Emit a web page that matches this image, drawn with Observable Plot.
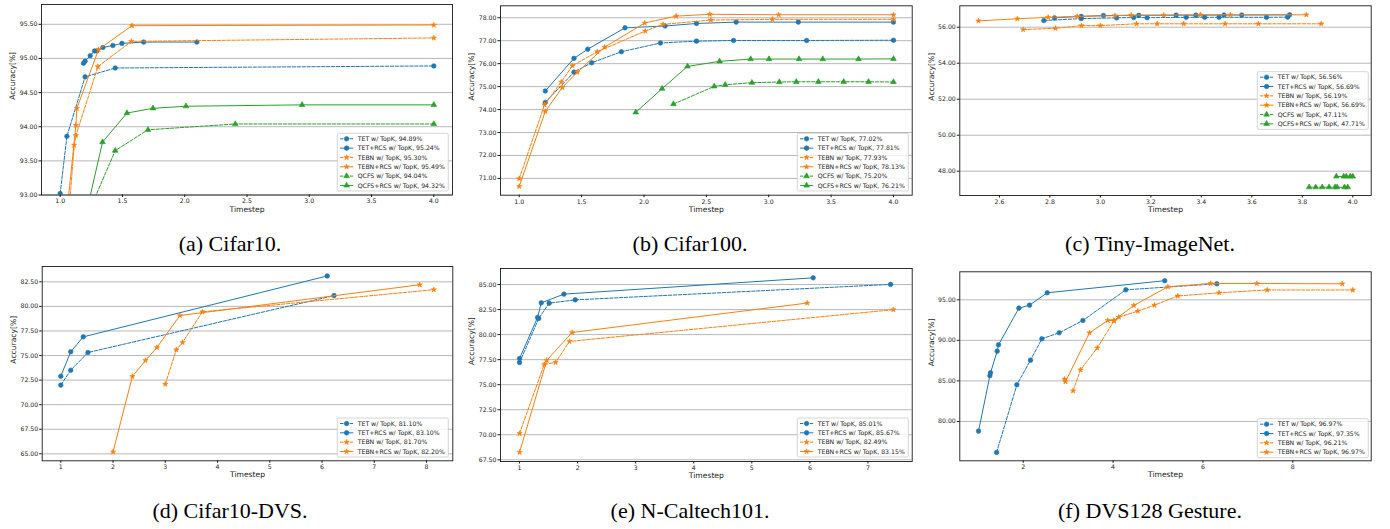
<!DOCTYPE html>
<html><head><meta charset="utf-8">
<script src="https://cdn.jsdelivr.net/npm/d3@7"></script>
<script src="https://cdn.jsdelivr.net/npm/@observablehq/plot@0.6"></script>
<style>
body{margin:0;background:#fff;}
#page{position:relative;width:1390px;height:529px;overflow:hidden;background:#fff;}
.cell{position:absolute;}
.cell svg{display:block;overflow:visible;}
.cap{position:absolute;width:400px;text-align:center;white-space:nowrap;font-family:"Liberation Serif","DejaVu Serif",serif;font-size:22px;line-height:26px;color:#000;}
</style></head><body><div id="page"></div>
<script>
// ---------- data ----------
// (a) Cifar10
const a_TET      = [[1.0,93.02],[1.054,93.86],[1.2,94.73],[1.442,94.86],[4.0,94.89]];
const a_TET_RCS  = [[1.1875,94.93],[1.2,94.96],[1.241,95.04],[1.276,95.11],[1.295,95.11],[1.343,95.16],[1.423,95.19],[1.496,95.22],[1.67,95.24],[2.098,95.24]];
const a_TEBN     = [[1.06,92.5],[1.1125,93.73],[1.126,93.87],[1.303,94.88],[1.571,95.25],[4.0,95.30]];
const a_TEBN_RCS = [[1.04,92.5],[1.126,94.02],[1.134,94.27],[1.308,95.13],[1.576,95.48],[4.0,95.49]];
const a_QCFS     = [[1.17,92.5],[1.442,93.65],[1.705,93.955],[2.406,94.04],[4.0,94.04]];
const a_QCFS_RCS = [[1.18,92.5],[1.34,93.775],[1.536,94.2],[1.745,94.27],[2.01,94.30],[2.942,94.32],[4.0,94.32]];
const a_labels = ["TET w/ TopK, 94.89%","TET+RCS w/ TopK, 95.24%","TEBN w/ TopK, 95.30%","TEBN+RCS w/ TopK, 95.49%","QCFS w/ TopK, 94.04%","QCFS+RCS w/ TopK, 94.32%"];
const a_xTicks = [1.0,1.5,2.0,2.5,3.0,3.5,4.0];
const a_yTicks = [93.0,93.5,94.0,94.5,95.0,95.5];

// (b) Cifar100
const b_TET      = [[1.209,74.31],[1.439,75.63],[1.581,76.04],[1.819,76.52],[2.132,76.90],[2.421,76.98],[2.718,77.01],[3.304,77.01],[4.0,77.02]];
const b_TET_RCS  = [[1.209,74.81],[1.439,76.23],[1.549,76.63],[1.848,77.56],[2.169,77.64],[2.421,77.75],[2.739,77.81],[3.237,77.81],[4.0,77.81]];
const b_TEBN     = [[1.0,70.99],[1.203,74.21],[1.337,75.20],[1.426,75.91],[1.626,76.52],[2.01,77.42],[2.153,77.71],[2.536,77.90],[3.03,77.93],[4.0,77.93]];
const b_TEBN_RCS = [[1.0,70.65],[1.209,73.92],[1.345,74.96],[1.466,75.63],[1.685,76.72],[2.006,77.77],[2.258,78.07],[2.528,78.15],[3.08,78.13],[4.0,78.13]];
const b_QCFS     = [[2.236,74.24],[2.563,75.01],[2.651,75.08],[2.865,75.17],[3.085,75.20],[3.221,75.21],[3.398,75.21],[3.601,75.21],[3.80,75.21],[4.0,75.20]];
const b_QCFS_RCS = [[1.934,73.88],[2.145,74.91],[2.349,75.88],[2.606,76.10],[2.855,76.20],[3.002,76.20],[3.243,76.20],[3.433,76.20],[3.72,76.20],[4.0,76.21]];
const b_labels = ["TET w/ TopK, 77.02%","TET+RCS w/ TopK, 77.81%","TEBN w/ TopK, 77.93%","TEBN+RCS w/ TopK, 78.13%","QCFS w/ TopK, 75.20%","QCFS+RCS w/ TopK, 76.21%"];
const b_xTicks = [1.0,1.5,2.0,2.5,3.0,3.5,4.0];
const b_yTicks = [71,72,73,74,75,76,77,78];

// (c) Tiny-ImageNet
const c_TET      = [[2.776,56.37],[2.924,56.48],[3.064,56.52],[3.132,56.54],[3.185,56.53],[3.34,56.55],[3.413,56.55],[3.47,56.55],[3.658,56.55],[3.742,56.56]];
const c_TET_RCS  = [[2.818,56.52],[2.924,56.60],[3.012,56.65],[3.152,56.66],[3.30,56.67],[3.378,56.67],[3.49,56.68],[3.56,56.68],[3.75,56.69]];
const c_TEBN     = [[2.694,55.87],[2.822,55.94],[2.925,56.09],[3.0,56.09],[3.143,56.19],[3.225,56.19],[3.33,56.19],[3.494,56.19],[3.626,56.19],[3.875,56.19]];
const c_TEBN_RCS = [[2.517,56.35],[2.671,56.47],[2.793,56.55],[2.908,56.60],[3.058,56.64],[3.122,56.67],[3.251,56.67],[3.396,56.69],[3.515,56.69],[3.816,56.69]];
const c_QCFS     = [[3.827,47.11],[3.853,47.11],[3.879,47.11],[3.906,47.11],[3.93,47.11],[3.938,47.11],[3.967,47.11],[3.98,47.11]];
const c_QCFS_RCS = [[3.935,47.71],[3.964,47.71],[3.974,47.71],[3.99,47.71],[4.0,47.71]];
const c_labels = ["TET w/ TopK, 56.56%","TET+RCS w/ TopK, 56.69%","TEBN w/ TopK, 56.19%","TEBN+RCS w/ TopK, 56.69%","QCFS w/ TopK, 47.11%","QCFS+RCS w/ TopK, 47.71%"];
const c_xTicks = [2.6,2.8,3.0,3.2,3.4,3.6,3.8,4.0];
const c_yTicks = [48,50,52,54,56];

// (d) Cifar10-DVS
const d_TET      = [[1.0,71.99],[1.19,73.51],[1.52,75.31],[6.23,81.10]];
const d_TET_RCS  = [[1.0,72.90],[1.19,75.38],[1.43,76.90],[6.10,83.10]];
const d_TEBN     = [[3.0,72.09],[3.21,75.58],[3.33,76.33],[3.71,79.45],[8.14,81.70]];
const d_TEBN_RCS = [[2.0,65.20],[2.37,72.87],[2.62,74.50],[2.84,75.82],[3.28,79.07],[7.87,82.20]];
const d_labels = ["TET w/ TopK, 81.10%","TET+RCS w/ TopK, 83.10%","TEBN w/ TopK, 81.70%","TEBN+RCS w/ TopK, 82.20%"];
const d_xTicks = [1,2,3,4,5,6,7,8];
const d_yTicks = [65,67.5,70,72.5,75,77.5,80,82.5];

// (e) N-Caltech101
const e_TET      = [[1.0,77.21],[1.33,81.61],[1.51,83.14],[1.96,83.47],[7.39,85.01]];
const e_TET_RCS  = [[1.0,77.61],[1.31,81.71],[1.374,83.17],[1.764,84.04],[6.057,85.67]];
const e_TEBN     = [[1.0,70.13],[1.425,77.02],[1.621,77.23],[1.86,79.32],[7.437,82.49]];
const e_TEBN_RCS = [[1.0,68.25],[1.468,77.43],[1.906,80.21],[5.954,83.15]];
const e_labels = ["TET w/ TopK, 85.01%","TET+RCS w/ TopK, 85.67%","TEBN w/ TopK, 82.49%","TEBN+RCS w/ TopK, 83.15%"];
const e_xTicks = [1,2,3,4,5,6,7];
const e_yTicks = [67.5,70,72.5,75,77.5,80,82.5,85];

// (f) DVS128 Gesture
const f_TET      = [[1.407,76.18],[1.859,84.52],[2.163,87.56],[2.415,90.19],[2.801,90.93],[3.328,92.45],[4.284,96.23],[6.31,96.97]];
const f_TET_RCS  = [[1.006,78.81],[1.258,85.63],[1.273,86.0],[1.421,88.67],[1.451,89.45],[1.904,93.97],[2.141,94.34],[2.534,95.86],[5.15,97.35]];
const f_TEBN     = [[3.11,83.78],[3.276,86.37],[3.647,89.06],[4.02,92.40],[4.128,92.86],[4.551,93.60],[4.92,94.34],[5.44,95.47],[6.36,95.86],[7.43,96.21],[9.335,96.21]];
const f_TEBN_RCS = [[2.92,85.22],[2.94,84.90],[3.476,90.93],[3.884,92.45],[4.017,92.45],[4.462,94.30],[5.22,96.60],[6.17,97.01],[7.2,97.01],[9.1,96.97]];
const f_labels = ["TET w/ TopK, 96.97%","TET+RCS w/ TopK, 97.35%","TEBN w/ TopK, 96.21%","TEBN+RCS w/ TopK, 96.97%"];
const f_xTicks = [2,4,6,8];
const f_yTicks = [80,85,90,95];

const captions = ["(a) Cifar10.","(b) Cifar100.","(c) Tiny-ImageNet.","(d) Cifar10-DVS.","(e) N-Caltech101.","(f) DVS128 Gesture."];

// ---------- styles ----------
const seriesColor  = ["#1f77b4","#1f77b4","#ff7f0e","#ff7f0e","#2ca02c","#2ca02c"];
const seriesDashed = [true,false,true,false,true,false];
const seriesSymbol = ["circle","circle","star","star","triangle","triangle"];
const seriesR      = [2.3,2.3,1.65,1.65,2.1,2.1];
const d3Sym = {circle: d3.symbolCircle, star: d3.symbolStar, triangle: d3.symbolTriangle};
const DASH = "3.4,1.5";

const panels = [
  {ox:0,   oy:0,   w:460, h:225, fr:{l:41,   r:452,   t:4,     b:194.5}, xd:[0.85,4.15],   yd:[93.0,95.79],  xt:a_xTicks, yt:a_yTicks, xf:".1f", series:[a_TET,a_TET_RCS,a_TEBN,a_TEBN_RCS,a_QCFS,a_QCFS_RCS], labels:a_labels, lg:{x:337.3, y:133.3}},
  {ox:460, oy:0,   w:460, h:225, fr:{l:500,  r:911.7, t:5.3,   b:194.7}, xd:[0.85,4.15],   yd:[70.27,78.52], xt:b_xTicks, yt:b_yTicks, xf:".1f", series:[b_TET,b_TET_RCS,b_TEBN,b_TEBN_RCS,b_QCFS,b_QCFS_RCS], labels:b_labels, lg:{x:797.3, y:133.3}},
  {ox:920, oy:0,   w:470, h:225, fr:{l:959.3,r:1370.7,t:5.3,   b:195},   xd:[2.443,4.073], yd:[46.65,57.19], xt:c_xTicks, yt:c_yTicks, xf:".1f", series:[c_TET,c_TET_RCS,c_TEBN,c_TEBN_RCS,c_QCFS,c_QCFS_RCS], labels:c_labels, lg:{x:1257.3,y:71.7}},
  {ox:0,   oy:262, w:460, h:225, fr:{l:41.7, r:452.3, t:266,   b:460.3}, xd:[0.644,8.503], yd:[64.29,84.06], xt:d_xTicks, yt:d_yTicks, xf:"d",   series:[d_TET,d_TET_RCS,d_TEBN,d_TEBN_RCS], labels:d_labels, lg:{x:337.3, y:418}},
  {ox:460, oy:262, w:460, h:225, fr:{l:500,  r:911.7, t:268,   b:461},   xd:[0.672,7.762], yd:[67.33,86.6],  xt:e_xTicks, yt:e_yTicks, xf:"d",   series:[e_TET,e_TET_RCS,e_TEBN,e_TEBN_RCS], labels:e_labels, lg:{x:797.3, y:418}},
  {ox:920, oy:262, w:470, h:225, fr:{l:959.3,r:1370.7,t:271.3, b:460.3}, xd:[0.589,9.744], yd:[75.15,98.45], xt:f_xTicks, yt:f_yTicks, xf:"d",   series:[f_TET,f_TET_RCS,f_TEBN,f_TEBN_RCS], labels:f_labels, lg:{x:1257.3,y:418.7}}
];
const capPos = [[230,244],[690,244],[1150,244],[230,511],[690,511],[1150,511]];

const page = document.getElementById("page");
const TXT = "#1a1a1a";

panels.forEach((p, pi) => {
  const ml = p.fr.l - p.ox, mr = p.ox + p.w - p.fr.r, mt = p.fr.t - p.oy, mb = p.oy + p.h - p.fr.b;
  const marks = [Plot.gridY(p.yt, {stroke:"#b0b0b0", strokeOpacity:1, strokeWidth:0.9})];
  p.series.forEach((pts, i) => {
    marks.push(Plot.line(pts, {x:d=>d[0], y:d=>d[1], stroke:seriesColor[i], strokeWidth:1, strokeDasharray: seriesDashed[i] ? DASH : undefined, clip:true}));
    marks.push(Plot.dot(pts, {x:d=>d[0], y:d=>d[1], fill:seriesColor[i], stroke:seriesColor[i], strokeWidth:0.6, symbol:seriesSymbol[i], r:seriesR[i], clip:true}));
  });
  marks.push(Plot.frame({stroke:"#1a1a1a", strokeWidth:0.9}));
  marks.push(Plot.axisX(p.xt, {tickFormat:d3.format(p.xf), tickSize:2.5, tickPadding:1.5, fontSize:6.2, label:null, stroke:TXT, fill:TXT}));
  marks.push(Plot.axisY(p.yt, {tickFormat:d3.format(".2f"), tickSize:2.5, tickPadding:1.5, fontSize:6.2, label:null, stroke:TXT, fill:TXT}));
  marks.push(Plot.text(["Timestep"], {frameAnchor:"bottom", dy:16.5, text:d=>d, fontSize:7.6, fill:TXT}));
  marks.push(Plot.text(["Accuracy[%]"], {frameAnchor:"left", dx:-28.5, rotate:-90, text:d=>d, fontSize:7.6, fill:TXT}));
  const svg = Plot.plot({
    width:p.w, height:p.h, marginLeft:ml, marginRight:mr, marginTop:mt, marginBottom:mb,
    x:{domain:p.xd}, y:{domain:p.yd},
    style:{fontFamily:"'DejaVu Sans', sans-serif", fontSize:"6.2px", background:"transparent", color:TXT},
    marks
  });
  // legend
  const g = d3.select(svg).append("g")
    .attr("font-family","'DejaVu Sans', sans-serif").attr("font-size","6.2px").attr("text-anchor","start");
  const bx = p.lg.x - p.ox, by = p.lg.y - p.oy, bw = 111, n = p.labels.length, step = 9.33;
  const bh = 11 + (n - 1) * step;
  g.append("rect").attr("x",bx).attr("y",by).attr("width",bw).attr("height",bh).attr("rx",1.5)
    .attr("fill","white").attr("fill-opacity",0.8).attr("stroke","#cccccc").attr("stroke-width",0.8);
  p.labels.forEach((lab, i) => {
    const cy = by + 5.5 + i * step;
    g.append("line").attr("x1",bx+2.7).attr("x2",bx+16).attr("y1",cy).attr("y2",cy)
      .attr("stroke",seriesColor[i]).attr("stroke-width",1).attr("stroke-dasharray", seriesDashed[i] ? DASH : null);
    const r = seriesR[i];
    g.append("path").attr("transform",`translate(${bx+9.3},${cy})`)
      .attr("d", d3.symbol().type(d3Sym[seriesSymbol[i]]).size(Math.PI*r*r)())
      .attr("fill",seriesColor[i]).attr("stroke",seriesColor[i]).attr("stroke-width",0.6);
    g.append("text").attr("x",bx+20.4).attr("y",cy).attr("dy","0.35em").attr("text-anchor","start").attr("fill",TXT).text(lab);
  });
  const div = document.createElement("div");
  div.className = "cell";
  div.style.left = p.ox + "px"; div.style.top = p.oy + "px";
  div.appendChild(svg);
  page.appendChild(div);

  const cap = document.createElement("div");
  cap.className = "cap";
  cap.textContent = captions[pi];
  cap.style.left = (capPos[pi][0] - 200) + "px";
  cap.style.top = (capPos[pi][1] - 13) + "px";
  page.appendChild(cap);
});
</script></body></html>
